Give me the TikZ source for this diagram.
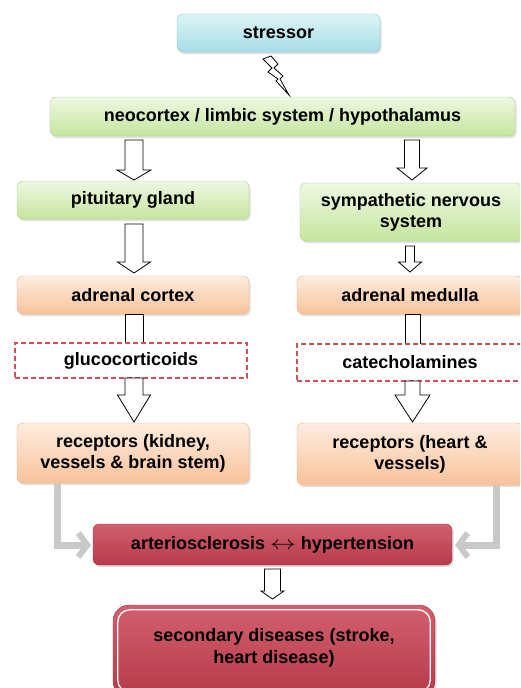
\documentclass[tikz,border=0pt]{standalone}
\usepackage{fontspec}
\setmainfont{Liberation Sans}
\usetikzlibrary{shadows,arrows.meta,calc}
\definecolor{bluetop}{HTML}{DDF4F7}
\definecolor{bluebot}{HTML}{A6DDE6}
\definecolor{bluebd}{HTML}{86C8D3}
\definecolor{greentop}{HTML}{EEF8E2}
\definecolor{greenbot}{HTML}{C6E59E}
\definecolor{greenbd}{HTML}{AED487}
\definecolor{orgtop}{HTML}{FEEDE0}
\definecolor{orgbot}{HTML}{F8C29A}
\definecolor{orgbd}{HTML}{F0AE7E}
\definecolor{redtop}{HTML}{D2606E}
\definecolor{redbot}{HTML}{B63A4A}
\definecolor{redbd}{HTML}{A53242}
\definecolor{dashred}{HTML}{D0505C}
\definecolor{graylc}{HTML}{C9C9C9}
\tikzset{
  base/.style={rounded corners=6pt, align=center, inner sep=0pt,
    font=\bfseries\fontsize{18}{21}\selectfont,
    drop shadow={opacity=0.25,shadow xshift=1.5pt,shadow yshift=-2pt}},
  bluebox/.style={base, draw=bluebd, top color=bluetop, bottom color=bluebot},
  greenbox/.style={base, draw=greenbd, top color=greentop, bottom color=greenbot},
  orangebox/.style={base, draw=orgbd, top color=orgtop, bottom color=orgbot},
  redbox/.style={base, draw=redbd, top color=redtop, bottom color=redbot},
  dashbox/.style={draw=dashred, line width=1.1pt, dash pattern=on 5pt off 3pt,
    fill=white, align=center, inner sep=0pt, font=\bfseries\fontsize{18}{21}\selectfont},
  blk/.style={draw=black, fill=white, line width=0.8pt, line join=miter},
  grayarr/.style={draw=graylc, line width=7pt,
    -{Straight Barb[length=9pt 0, width=24pt 0, line width=6pt]}}
}
\newcommand\blockarrow[6]{%
  \draw[blk] (#1-#5,#2) -- (#1-#5,#3) -- (#1-#6,#3) -- (#1,#4) -- (#1+#6,#3)
    -- (#1+#5,#3) -- (#1+#5,#2) -- cycle;}
\begin{document}
\begin{tikzpicture}[x=1pt,y=-1pt]
\clip (0,0) rectangle (520,688);
\fill[white] (0,0) rectangle (520,688);

% nodes
\node[bluebox, minimum width=203pt, minimum height=38pt] (stress) at (278.5,33) {stressor};
\node[greenbox, minimum width=465pt, minimum height=39pt] (neo) at (282.5,116.5) {neocortex / limbic system / hypothalamus};
\node[greenbox, minimum width=232pt, minimum height=38pt] (pit) at (133,200) {pituitary gland};
\node[greenbox, minimum width=222pt, minimum height=58pt] (sns) at (411,212) {sympathetic nervous\\system};
\node[orangebox, minimum width=232pt, minimum height=38pt] (adc) at (133,295) {adrenal cortex};
\node[orangebox, minimum width=226pt, minimum height=38pt] (adm) at (410,295) {adrenal medulla};
\node[orangebox, minimum width=232pt, minimum height=60pt] (recL) at (133,453) {receptors (kidney,\\vessels \& brain stem)};
\node[orangebox, minimum width=226pt, minimum height=62pt] (recR) at (410,454) {receptors (heart \&\\vessels)};

% shafts behind dashed boxes
\draw[blk] (125,314) rectangle (143,343);
\draw[blk] (405,314) rectangle (420,344);

\node[dashbox, minimum width=232pt, minimum height=35pt] (gluc) at (131,360.5) {glucocorticoids};
\node[dashbox, minimum width=226pt, minimum height=37pt] (cat) at (410,362.5) {catecholamines};

% block arrows
\blockarrow{134}{140}{170}{180}{9}{17}
\blockarrow{412}{140}{168}{180}{7.5}{15}
\blockarrow{134}{224}{262}{273}{9}{16.5}
\blockarrow{410}{246}{262}{272}{4.5}{11.5}
\blockarrow{134}{378}{395}{422}{9}{16.5}
\blockarrow{412.5}{381}{395}{422}{7.5}{17.5}
\blockarrow{272.5}{569}{591}{599}{8}{11.5}

% lightning
\draw[blk, line join=miter] (263,59) -- (271,56) -- (278,64) -- (274,68) -- (283,76) -- (280,79)
  -- (289,95) -- (276,81) -- (278,79) -- (268,72) -- (272,68) -- cycle;

% gray elbow arrows
\coordinate (lbend) at (57,545);
\coordinate (rbend) at (496,545);
\draw[grayarr] (recL.south -| lbend) -- (lbend) -- (91,545);
\draw[grayarr] (recR.south -| rbend) -- (rbend) -- (455,545);

\node[redbox, minimum width=359pt, minimum height=41pt] (art) at (272.5,544.5) {arteriosclerosis \scalebox{1.5}[1.1]{$\leftrightarrow$} hypertension};

% secondary diseases
\node[redbox, rounded corners=16pt, minimum width=322pt, minimum height=92pt] (sec) at (274,651) {};
\draw[white, line width=1.3pt, rounded corners=12pt] ($(sec.north west)+(5,5)$) rectangle ($(sec.south east)+(-5,-5)$);
\node[font=\bfseries\fontsize{18}{22}\selectfont, align=center] (sectxt) at (274,648) {secondary diseases (stroke,\\heart disease)};
\end{tikzpicture}
\end{document}
